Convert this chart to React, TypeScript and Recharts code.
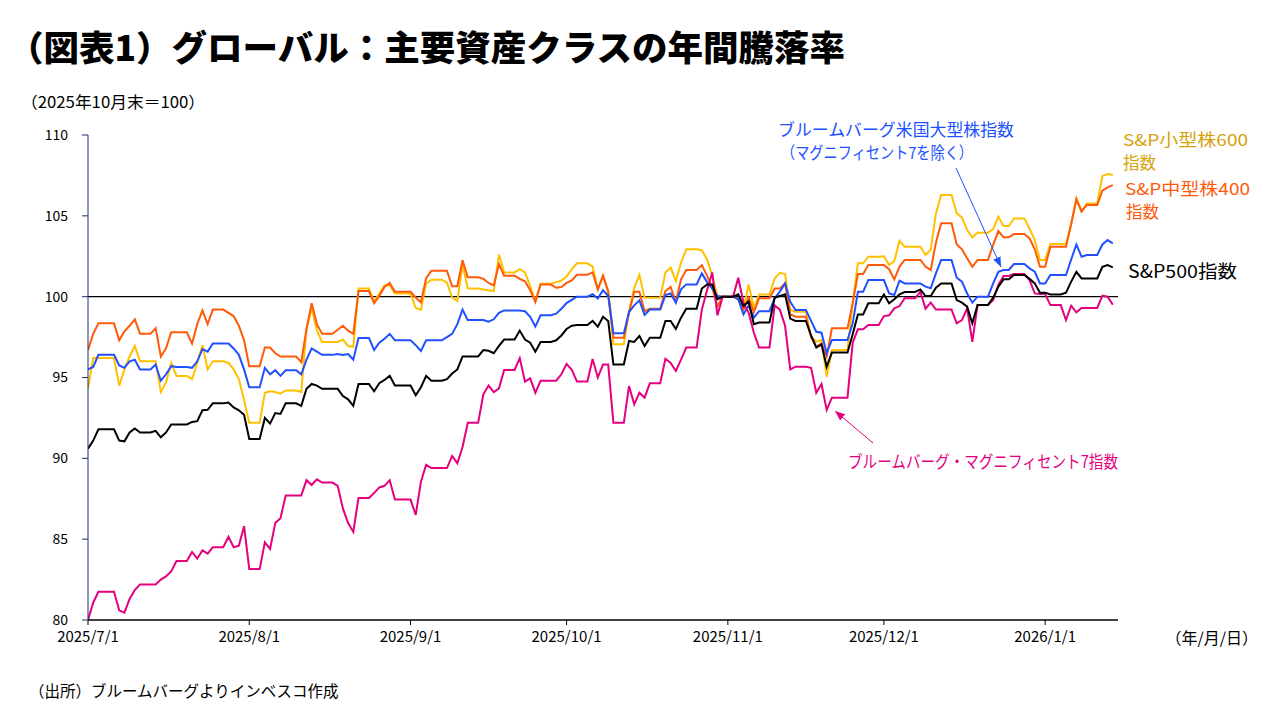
import React from 'react';
import { LineChart, Line, XAxis, YAxis, ReferenceLine } from 'recharts';

const FONT = '"Noto Sans CJK JP", "Noto Sans", sans-serif';

// calendar
const START_DATE = '2025-07-01';
const END_DATE = '2026-01-14';
const HOLIDAYS = ['2025-07-04', '2025-09-01', '2025-11-27', '2025-12-25', '2026-01-01'];

// axis ticks
const X_TICK_DATES = ['2025-07-01', '2025-08-01', '2025-09-01', '2025-10-01', '2025-11-01', '2025-12-01', '2026-01-01'];
const X_TICK_LABELS = ['2025/7/1', '2025/8/1', '2025/9/1', '2025/10/1', '2025/11/1', '2025/12/1', '2026/1/1'];
const Y_TICKS = [80, 85, 90, 95, 100, 105, 110];

// business-day closes (2025/10/31 = 100), one line per month
const SP600 = [
  94.3, 96.2, 96.2, 94.5, 95.5, 96.3, 96.95, 96.0, 96.0, 94.1, 94.7, 95.9, 95.1, 94.9, 95.9, 97.0, 95.5, 96.0, 95.9, 95.5, 94.9, 93.6,
  92.2, 94.05, 94.15, 94.1, 94.0, 94.2, 94.1, 98.0, 99.3, 97.9, 97.2, 97.2, 97.35, 96.95, 96.9, 100.5, 99.7, 100.2, 100.7, 100.7, 100.2,
  99.3, 99.2, 100.8, 101.05, 100.87, 99.94, 99.73, 102.0, 100.5, 100.45, 100.4, 100.35, 102.6, 101.5, 101.7, 101.5, 100.66, 99.73, 100.8, 100.9, 101.0,
  101.25, 101.7, 102.06, 101.86, 100.45, 101.3, 100.25, 97.05, 99.1, 100.55, 101.35, 99.94, 99.94, 101.5, 101.8, 100.97, 102.1, 102.93, 102.87, 102.3, 101.3, 100.04, 100.0,
  99.85, 99.2, 100.76, 99.3, 100.14, 101.13, 101.48, 101.4, 99.2, 99.07, 97.5, 97.22, 97.32, 95.05, 96.7, 96.7, 99.6, 102.06, 102.47,
  102.5, 101.96, 102.2, 103.46, 103.09, 103.09, 102.58, 102.9, 105.15, 106.29, 105.15, 104.9, 104.12, 103.67, 103.96, 104.18, 104.95, 104.37, 104.84, 104.2, 103.5, 102.27,
  103.26, 103.26, 104.5, 106.08, 105.26, 105.77, 107.46, 107.58, 107.52,
];

const SP400 = [
  96.7, 97.7, 98.35, 97.3, 97.85, 98.2, 98.6, 97.7, 98.05, 96.3, 96.8, 97.8, 97.8, 97.1, 98.3, 99.15, 98.3, 99.2, 99.0, 98.8, 98.2, 97.3,
  95.7, 96.85, 96.85, 96.5, 96.3, 96.3, 95.95, 98.0, 99.6, 98.3, 97.7, 97.95, 98.2, 97.9, 97.7, 100.35, 99.6, 100.05, 100.6, 100.85, 100.3,
  99.95, 99.65, 101.15, 101.6, 101.6, 100.65, 100.65, 102.25, 101.2, 101.1, 100.85, 100.7, 102.0, 101.3, 101.1, 100.95, 100.4, 99.67, 100.75, 100.55, 100.6,
  100.85, 101.0, 101.35, 101.5, 100.45, 101.3, 100.35, 97.46, 99.0, 100.3, 100.3, 99.1, 99.25, 100.35, 100.6, 99.67, 101.07, 101.65, 101.95, 101.3, 100.55, 99.4, 100.0,
  99.85, 99.2, 99.95, 99.05, 99.9, 100.5, 100.5, 100.82, 98.9, 98.76, 97.5, 96.91, 97.1, 96.3, 98.04, 98.04, 99.6, 101.4, 101.96,
  101.96, 101.7, 101.07, 101.86, 102.27, 102.27, 101.86, 101.65, 103.34, 104.54, 103.23, 102.93, 102.37, 101.85, 102.27, 103.2, 104.06, 103.67, 103.87, 103.6, 102.93, 101.85,
  103.09, 103.09, 104.5, 106.02, 105.26, 105.67, 106.55, 106.76, 106.9,
];

const BBG_EX_MAG7 = [
  95.5, 95.65, 96.4, 95.75, 95.6, 96.0, 96.1, 95.5, 95.8, 94.8, 95.2, 95.7, 95.65, 95.6, 96.0, 96.75, 96.6, 97.1, 97.1, 96.8, 96.4, 95.5,
  94.4, 95.6, 95.2, 95.45, 95.1, 95.45, 95.2, 96.1, 96.8, 96.6, 96.4, 96.45, 96.4, 96.45, 96.1, 97.45, 96.7, 97.15, 97.4, 97.7, 97.3,
  97.0, 96.64, 97.3, 97.3, 97.5, 97.7, 98.3, 99.2, 98.55, 98.55, 98.45, 98.6, 99.0, 99.15, 99.15, 99.1, 98.75, 98.15, 98.85, 98.95, 99.25,
  99.6, 99.8, 100.0, 100.15, 99.88, 100.4, 100.04, 97.73, 99.05, 99.46, 99.77, 98.87, 99.2, 100.1, 100.2, 99.63, 100.45, 100.76, 101.44, 100.9, 100.5, 100.04, 100.0,
  99.85, 98.9, 99.46, 98.7, 99.1, 99.9, 100.31, 100.82, 99.69, 99.17, 98.5, 97.83, 97.77, 96.5, 97.32, 97.32, 98.35, 100.3, 101.03,
  101.03, 100.2, 100.1, 100.99, 100.82, 100.82, 100.62, 100.52, 101.44, 102.27, 101.17, 100.93, 100.2, 99.63, 100.0, 100.82, 101.54, 101.65, 102.02, 101.75, 101.54, 100.82,
  101.34, 101.34, 102.3, 103.23, 102.47, 102.58, 103.23, 103.5, 103.3,
];

const SP500 = [
  90.6, 91.1, 91.8, 91.1, 91.05, 91.6, 91.85, 91.6, 91.7, 91.3, 91.6, 92.1, 92.1, 92.25, 92.3, 92.97, 93.0, 93.4, 93.45, 93.15, 92.97, 92.7,
  91.2, 92.5, 92.15, 92.8, 92.75, 93.4, 93.25, 94.3, 94.6, 94.5, 94.3, 94.3, 93.85, 93.65, 93.25, 94.6, 94.15, 94.65, 94.85, 95.1, 94.5,
  93.9, 94.4, 95.1, 94.8, 94.9, 95.25, 95.5, 96.3, 96.3, 96.7, 96.65, 96.5, 96.95, 97.35, 97.9, 97.35, 97.15, 96.6, 97.2, 97.3, 97.6,
  98.0, 98.2, 98.25, 98.5, 98.14, 98.76, 98.5, 95.8, 97.26, 97.2, 97.57, 96.95, 97.46, 98.5, 98.5, 98.0, 98.7, 99.26, 100.5, 100.76, 100.76, 99.84, 100.0,
  100.14, 99.42, 99.7, 98.3, 98.4, 99.94, 100.04, 100.14, 98.64, 98.5, 97.6, 96.85, 97.05, 95.67, 96.54, 96.54, 97.67, 98.9, 99.59,
  100.14, 99.59, 99.84, 100.14, 100.29, 100.45, 100.04, 100.04, 100.56, 100.82, 99.79, 99.63, 99.38, 98.35, 99.48, 99.94, 100.62, 101.07, 101.34, 101.1, 100.82, 100.25,
  100.14, 100.25, 100.93, 101.54, 101.13, 101.13, 101.85, 101.96, 101.81,
];

const BBG_MAG7 = [
  80.0, 81.07, 81.75, 80.6, 80.45, 81.3, 81.85, 82.2, 82.2, 82.5, 82.7, 83.0, 83.65, 84.2, 83.8, 84.3, 84.1, 84.5, 85.15, 84.5, 84.6, 85.8,
  83.15, 84.8, 84.4, 86.0, 86.3, 87.7, 87.7, 88.65, 88.35, 88.7, 88.5, 88.3, 86.9, 86.0, 85.45, 87.55, 87.85, 88.2, 88.3, 88.65, 87.45,
  86.5, 88.56, 89.6, 89.4, 89.4, 90.15, 89.7, 90.7, 92.2, 93.96, 94.5, 94.1, 94.33, 95.47, 96.2, 94.75, 94.95, 94.06, 94.8, 94.8, 95.2,
  95.84, 95.47, 94.75, 96.15, 95.0, 95.8, 95.8, 92.2, 94.47, 93.34, 94.06, 93.75, 94.64, 96.16, 95.9, 95.4, 96.1, 96.85, 99.2, 100.4, 101.5, 98.85, 100.0,
  101.17, 99.63, 99.0, 97.77, 96.85, 99.46, 99.2, 98.2, 95.5, 95.67, 95.6, 94.06, 94.6, 93.0, 93.75, 93.75, 97.15, 97.98, 98.25,
  98.8, 98.85, 99.28, 99.42, 99.9, 100.3, 99.26, 99.63, 99.2, 99.2, 98.35, 98.55, 99.28, 97.2, 99.48, 99.79, 100.72, 101.28, 101.4, 101.03, 100.2, 100.16,
  99.48, 98.55, 99.44, 99.03, 99.3, 99.3, 100.06, 100.0, 99.5,
];

const SERIES = [
  { key: 'sp600', values: SP600, color: '#FFC000' },
  { key: 'sp400', values: SP400, color: '#FF5A0A' },
  { key: 'exmag7', values: BBG_EX_MAG7, color: '#2050FF' },
  { key: 'mag7', values: BBG_MAG7, color: '#E4007F' },
  { key: 'sp500', values: SP500, color: '#000000' },
];

const MS_DAY = 86400000;
const toUTC = (s: string) => {
  const [y, m, d] = s.split('-').map(Number);
  return Date.UTC(y, m - 1, d);
};
const START_UTC = toUTC(START_DATE);
const dayIndex = (s: string) => Math.round((toUTC(s) - START_UTC) / MS_DAY);
const isoOf = (t: number) => new Date(t).toISOString().slice(0, 10);

// calendar-day table; non-trading days keep the previous close (flat segments, as in the source chart)
function buildTable() {
  const last = dayIndex(END_DATE);
  const rows: any[] = [];
  let k = -1;
  for (let d = 0; d <= last; d++) {
    const t = START_UTC + d * MS_DAY;
    const wd = new Date(t).getUTCDay();
    const biz = wd !== 0 && wd !== 6 && !HOLIDAYS.includes(isoOf(t));
    if (biz) k++;
    const row: any = { d };
    SERIES.forEach((s) => {
      row[s.key] = s.values[Math.max(k, 0)];
    });
    rows.push(row);
  }
  return rows;
}

const X_TICKS = X_TICK_DATES.map(dayIndex);

export default function App() {
  const data = buildTable();
  return (
    <div style={{ position: 'absolute', left: 0, top: 0, width: 1280, height: 720, background: '#fff', fontFamily: FONT }}>
      <LineChart width={1280} height={720} data={data} margin={{ top: 135, right: 162, bottom: 70, left: 0 }}>
        <XAxis
          dataKey="d"
          type="number"
          domain={[0, 198]}
          ticks={X_TICKS}
          interval={0}
          tickFormatter={(v: number) => X_TICK_LABELS[X_TICKS.indexOf(v)] ?? ''}
          tickSize={5}
          tickMargin={6}
          height={30}
          axisLine={{ stroke: '#000', strokeWidth: 1.5 }}
          tickLine={{ stroke: '#000' }}
          tick={{ fill: '#000', fontSize: 15, fontFamily: FONT }}
          allowDataOverflow
        />
        <YAxis
          type="number"
          domain={[80, 110]}
          ticks={Y_TICKS}
          interval={0}
          width={88}
          tickSize={6}
          tickMargin={14}
          axisLine={{ stroke: '#1F2F6E' }}
          tickLine={{ stroke: '#1F2F6E' }}
          tick={{ fill: '#000', fontSize: 14, fontFamily: FONT }}
          allowDataOverflow
        />
        <ReferenceLine y={100} stroke="#000" strokeWidth={1.2} />
        {SERIES.map((s) => (
          <Line
            key={s.key}
            dataKey={s.key}
            type="linear"
            stroke={s.color}
            strokeWidth={2}
            dot={false}
            activeDot={false}
            isAnimationActive={false}
          />
        ))}
      </LineChart>
      <svg
        width={1280}
        height={720}
        style={{ position: 'absolute', left: 0, top: 0, pointerEvents: 'none', fontFamily: FONT }}
      >
        <defs>
          <marker id="arrBlue" markerUnits="userSpaceOnUse" markerWidth="10" markerHeight="8" refX="10" refY="4" orient="auto">
            <path d="M0,0 L10,4 L0,8 z" fill="#2050FF" />
          </marker>
          <marker id="arrMag" markerUnits="userSpaceOnUse" markerWidth="10" markerHeight="8" refX="10" refY="4" orient="auto">
            <path d="M0,0 L10,4 L0,8 z" fill="#E4007F" />
          </marker>
        </defs>
        <text x={8} y={45} fontSize={35} fontWeight={900} dominantBaseline="central" textLength={837} lengthAdjust="spacingAndGlyphs" fill="#000">
          （図表1）グローバル：主要資産クラスの年間騰落率
        </text>
        <text x={21} y={101} fontSize={16} dominantBaseline="central" textLength={184} lengthAdjust="spacingAndGlyphs" fill="#000">
          （2025年10月末＝100）
        </text>
        <text x={1258} y={637} fontSize={16} dominantBaseline="central" textAnchor="end" fill="#000">
          （年/月/日）
        </text>
        <text x={29} y={690} fontSize={15.5} dominantBaseline="central" fill="#000">
          （出所）ブルームバーグよりインベスコ作成
        </text>

        <text x={778} y={129} fontSize={16.5} dominantBaseline="central" textLength={236} lengthAdjust="spacingAndGlyphs" fill="#2050FF">
          ブルームバーグ米国大型株指数
        </text>
        <text x={781} y={152} fontSize={16.5} dominantBaseline="central" textLength={192} lengthAdjust="spacingAndGlyphs" fill="#2050FF">
          （マグニフィセント7を除く）
        </text>
        <line x1={956} y1={168} x2={1001} y2={267} stroke="#2050FF" strokeWidth={1} markerEnd="url(#arrBlue)" />

        <text x={1123} y={139} fontSize={16.5} dominantBaseline="central" textLength={125} lengthAdjust="spacingAndGlyphs" fill="#D4A20A">
          S&amp;P小型株600
        </text>
        <text x={1123} y={162} fontSize={16.5} dominantBaseline="central" fill="#D4A20A">
          指数
        </text>
        <text x={1125} y={188} fontSize={16.5} dominantBaseline="central" textLength={125} lengthAdjust="spacingAndGlyphs" fill="#FF5A0A">
          S&amp;P中型株400
        </text>
        <text x={1126} y={211} fontSize={16.5} dominantBaseline="central" fill="#FF5A0A">
          指数
        </text>
        <text x={1128} y={270} fontSize={18} dominantBaseline="central" textLength={109} lengthAdjust="spacingAndGlyphs" fill="#000">
          S&amp;P500指数
        </text>

        <text x={848} y={460} fontSize={17} dominantBaseline="central" textLength={270} lengthAdjust="spacingAndGlyphs" fill="#E4007F">
          ブルームバーグ・マグニフィセント7指数
        </text>
        <line x1={873} y1={443} x2={835} y2={411} stroke="#E4007F" strokeWidth={1} markerEnd="url(#arrMag)" />
      </svg>
    </div>
  );
}
